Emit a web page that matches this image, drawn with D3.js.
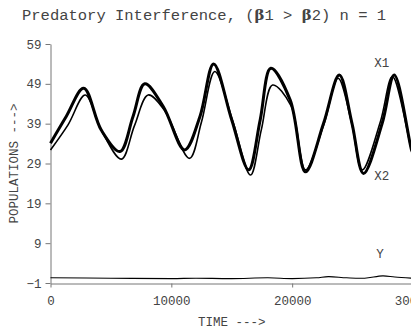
<!DOCTYPE html>
<html>
<head>
<meta charset="utf-8">
<script src="https://cdn.jsdelivr.net/npm/d3@7"></script>
<style>
  body { margin: 0; background: #fff; overflow: hidden; }
  text { font-family: "Liberation Mono", "Courier New", monospace; fill: #444; }
</style>
</head>
<body>
<svg id="chart"></svg>
<script>
const width = 411;
const height = 333;

// X1 (heavy line)
const x1Time = [0, 1300, 2750, 4200, 5750, 6830, 7800, 9330, 11100, 12370, 13500, 15000,
    16400, 17350, 18230, 19840, 21100, 22600, 23900, 24950, 25900, 27450, 28450, 29880, 30000];
const x1Values = [34.1, 40.8, 47.9, 37.4, 32.0, 40.8, 49.0, 43.3, 32.4, 40.8, 54.0, 39.9,
    27.4, 39.9, 52.9, 44.9, 26.9, 39.1, 51.2, 39.1, 26.5, 39.1, 51.2, 32.4, 31.6];

// X2 (light line)
const x2Time = [0, 1450, 2880, 4200, 5870, 6950, 8080, 9400, 11500, 12500, 13600, 15100,
    16550, 17450, 18380, 19900, 21100, 22600, 23800, 24900, 25800, 27300, 28300, 29880, 30000];
const x2Values = [32.4, 38.7, 46.2, 37.4, 30.1, 38.5, 46.2, 42.5, 30.3, 39.5, 52.1, 39.5,
    26.1, 37.5, 48.7, 43.5, 27.4, 38.6, 50.4, 39.5, 27.4, 39.5, 50.8, 32.4, 31.6];

// Y (predator)
const yTime = [0, 5000, 10000, 12000, 15000, 18000, 20000, 22000, 23000, 24500, 26000, 27500, 28500, 30000];
const yValues = [0.3, 0.2, 0.1, 0.2, 0.1, 0.3, 0.1, 0.3, 0.6, 0.3, 0.2, 0.8, 0.5, 0.2];

const xTicks = [0, 10000, 20000, 30000];
const yTicks = [-1, 9, 19, 29, 39, 49, 59];

const svg = d3.select("#chart")
    .attr("width", width)
    .attr("height", height);

const x = d3.scaleLinear().domain([0, 30000]).range([50.5, 413]);
const y = d3.scaleLinear().domain([-1, 59]).range([283, 44]);

const xAxis = svg.append("g")
    .attr("transform", "translate(0,283.5)")
    .call(d3.axisBottom(x).tickValues(xTicks).tickFormat(d3.format("d"))
        .tickSize(4).tickSizeOuter(0).tickPadding(9));

const yAxis = svg.append("g")
    .attr("transform", "translate(50.5,0)")
    .call(d3.axisLeft(y).tickValues(yTicks).tickFormat(d3.format("d"))
        .tickSize(5).tickSizeOuter(0).tickPadding(4));

[xAxis, yAxis].forEach(a => {
    a.selectAll("path, line").attr("stroke", "#777");
    a.selectAll("text")
        .attr("font-family", "Liberation Mono, Courier New, monospace")
        .attr("font-size", "12.5px")
        .attr("fill", "#444");
});

const line = d3.line()
    .x(d => x(d[0]))
    .y(d => y(d[1]))
    .curve(d3.curveCatmullRom.alpha(0.5));

const series = [
    {name: "X2", t: x2Time, v: x2Values, w: 1.6},
    {name: "X1", t: x1Time, v: x1Values, w: 3},
    {name: "Y", t: yTime, v: yValues, w: 1.1}
];

svg.append("g")
    .selectAll("path")
    .data(series)
    .enter()
    .append("path")
    .attr("fill", "none")
    .attr("stroke", "#000")
    .attr("stroke-width", d => d.w)
    .attr("stroke-linejoin", "round")
    .attr("d", d => line(d.t.map((t, i) => [t, d.v[i]])));

// series labels
const labels = [
    {text: "X1", t: 26800, v: 53.3},
    {text: "X2", t: 26800, v: 24.9},
    {text: "Y", t: 26950, v: 5.3}
];

svg.append("g")
    .selectAll("text")
    .data(labels)
    .enter()
    .append("text")
    .attr("x", d => x(d.t))
    .attr("y", d => y(d.v))
    .attr("font-size", "12.5px")
    .text(d => d.text);

const title = svg.append("text")
    .attr("x", 22)
    .attr("y", 20)
    .attr("font-size", "15.5px");
title.append("tspan").text("Predatory Interference, (");
title.append("tspan").attr("font-family", "DejaVu Serif").attr("font-weight", "bold").attr("font-size", "15px").text("β");
title.append("tspan").text("1 > ");
title.append("tspan").attr("font-family", "DejaVu Serif").attr("font-weight", "bold").attr("font-size", "15px").text("β");
title.append("tspan").text("2) n = 1");

svg.append("text")
    .attr("x", (x(0) + x(30000)) / 2)
    .attr("y", 326)
    .attr("text-anchor", "middle")
    .attr("font-size", "12.5px")
    .text("TIME --->");

svg.append("text")
    .attr("transform", `translate(18,${(y(-1) + y(59)) / 2}) rotate(-90)`)
    .attr("text-anchor", "middle")
    .attr("font-size", "12.5px")
    .text("POPULATIONS --->");
</script>
</body>
</html>
